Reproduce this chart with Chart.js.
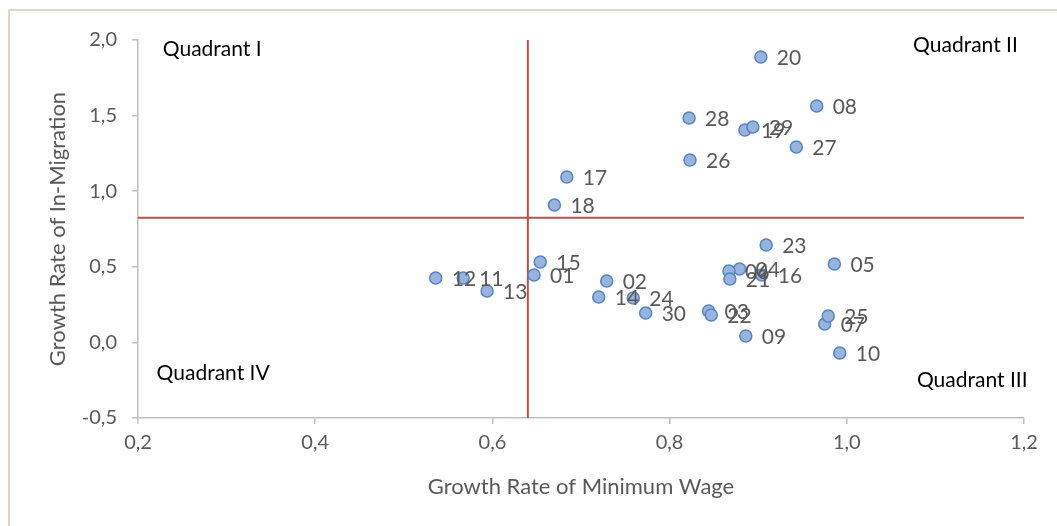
<!DOCTYPE html>
<html>
<head>
<meta charset="utf-8">
<script src="https://cdn.jsdelivr.net/npm/chart.js@4/dist/chart.umd.min.js"></script>
<style>
  html, body { margin: 0; padding: 0; background: #ffffff; overflow: hidden; }
  #frame { position: absolute; left: 8px; top: 9px; width: 1200px; height: 700px; border: 2px solid #ddd8c4; }
  #wrap { position: absolute; left: 0; top: 0; width: 1057px; height: 526px; }
</style>
</head>
<body>
<div id="frame"></div>
<div id="wrap"><canvas id="chart" width="1057" height="526"></canvas></div>
<script>
// Province codes and their growth rates
const codes = ['01', '02', '03', '04', '05', '06', '07', '08', '09', '10',
               '11', '12', '13', '14', '15', '16', '17', '18', '19', '20',
               '21', '22', '23', '24', '25', '26', '27', '28', '29', '30'];
const wageGrowth = [0.647, 0.729, 0.844, 0.879, 0.986, 0.867, 0.975, 0.966, 0.886, 0.992,
                    0.567, 0.536, 0.594, 0.720, 0.654, 0.904, 0.684, 0.670, 0.885, 0.903,
                    0.868, 0.847, 0.909, 0.759, 0.979, 0.823, 0.943, 0.822, 0.894, 0.773];
const migrationGrowth = [0.446, 0.406, 0.208, 0.485, 0.519, 0.472, 0.122, 1.563, 0.042, -0.070,
                         0.426, 0.426, 0.340, 0.300, 0.532, 0.446, 1.094, 0.909, 1.405, 1.888,
                         0.419, 0.181, 0.644, 0.294, 0.175, 1.206, 1.292, 1.484, 1.425, 0.194];

// Quadrant dividers (averages)
const meanWage = 0.640;
const meanMigration = 0.825;

// Axis ranges
const xTicks = [0.2, 0.4, 0.6, 0.8, 1.0, 1.2];
const yTicks = [-0.5, 0.0, 0.5, 1.0, 1.5, 2.0];

// Quadrant captions, anchored in data units
const quadrantNames = ['Quadrant I', 'Quadrant II', 'Quadrant IV', 'Quadrant III'];
const quadrantX = [0.228, 1.193, 0.221, 1.204];
const quadrantY = [1.94, 1.967, -0.202, -0.249];
const quadrantAlign = ['left', 'right', 'left', 'right'];

const fontFamily = 'Lato, "Open Sans", sans-serif';
const greyText = '#595959';
const axisGrey = '#bfbfbf';
const lineRed = '#b9504c';

const fmt = v => v.toFixed(1).replace('.', ',');

const points = codes.map((c, i) => ({ x: wageGrowth[i], y: migrationGrowth[i] }));

// Draws province codes next to points and quadrant captions
const labelPlugin = {
    id: 'labels',
    afterDatasetsDraw(chart) {
        const ctx = chart.ctx;
        const meta = chart.getDatasetMeta(0);
        ctx.save();
        ctx.font = '21px ' + fontFamily;
        ctx.fillStyle = greyText;
        ctx.textAlign = 'left';
        ctx.textBaseline = 'middle';
        meta.data.forEach((pt, i) => {
            ctx.fillText(codes[i], pt.x + 16, pt.y + 1);
        });

        const xs = chart.scales.x, ys = chart.scales.y;
        ctx.font = '21px ' + fontFamily;
        ctx.fillStyle = '#000000';
        quadrantNames.forEach((name, i) => {
            ctx.textAlign = quadrantAlign[i];
            ctx.fillText(name, xs.getPixelForValue(quadrantX[i]), ys.getPixelForValue(quadrantY[i]));
        });
        ctx.restore();
    }
};

const ctx = document.getElementById('chart').getContext('2d');
const chart = new Chart(ctx, {
    type: 'scatter',
    data: {
        datasets: [
            {
                label: 'Provinces',
                data: points,
                pointRadius: 6,
                pointBackgroundColor: '#98b4dc',
                pointBorderColor: '#5585c4',
                pointBorderWidth: 1.5,
                order: 1
            },
            {
                type: 'line',
                label: 'Mean wage',
                data: [{ x: meanWage, y: yTicks[0] }, { x: meanWage, y: yTicks[yTicks.length - 1] }],
                borderColor: lineRed,
                borderWidth: 2,
                pointRadius: 0,
                order: 2
            },
            {
                type: 'line',
                label: 'Mean migration',
                data: [{ x: xTicks[0], y: meanMigration }, { x: xTicks[xTicks.length - 1], y: meanMigration }],
                borderColor: lineRed,
                borderWidth: 2,
                pointRadius: 0,
                order: 2
            }
        ]
    },
    options: {
        responsive: false,
        animation: false,
        events: [],
        layout: {
            padding: { left: 41, top: 40, right: 33, bottom: 0 }
        },
        plugins: {
            legend: { display: false },
            tooltip: { enabled: false }
        },
        scales: {
            x: {
                type: 'linear',
                min: xTicks[0],
                max: xTicks[xTicks.length - 1],
                afterBuildTicks: s => { s.ticks = xTicks.map(v => ({ value: v })); },
                afterFit: s => { s.height = 108; },
                ticks: {
                    color: greyText,
                    font: { family: fontFamily, size: 20 },
                    padding: 7,
                    callback: v => fmt(v)
                },
                grid: { drawOnChartArea: false, color: axisGrey, tickLength: 6, lineWidth: 1.5 },
                border: { color: axisGrey, width: 1.5 },
                title: {
                    display: true,
                    text: 'Growth Rate of Minimum Wage',
                    color: greyText,
                    font: { family: fontFamily, size: 22 },
                    padding: { top: 4, bottom: 26 }
                }
            },
            y: {
                type: 'linear',
                min: yTicks[0],
                max: yTicks[yTicks.length - 1],
                afterBuildTicks: s => { s.ticks = yTicks.map(v => ({ value: v })); },
                afterFit: s => { s.width = 97; },
                ticks: {
                    color: greyText,
                    font: { family: fontFamily, size: 20 },
                    padding: 15,
                    callback: v => fmt(v)
                },
                grid: { drawOnChartArea: false, color: axisGrey, tickLength: 6, lineWidth: 1.5 },
                border: { color: axisGrey, width: 1.5 },
                title: {
                    display: true,
                    text: 'Growth Rate of In-Migration',
                    color: greyText,
                    font: { family: fontFamily, size: 22 },
                    padding: 4
                }
            }
        }
    },
    plugins: [labelPlugin]
});
</script>
</body>
</html>
